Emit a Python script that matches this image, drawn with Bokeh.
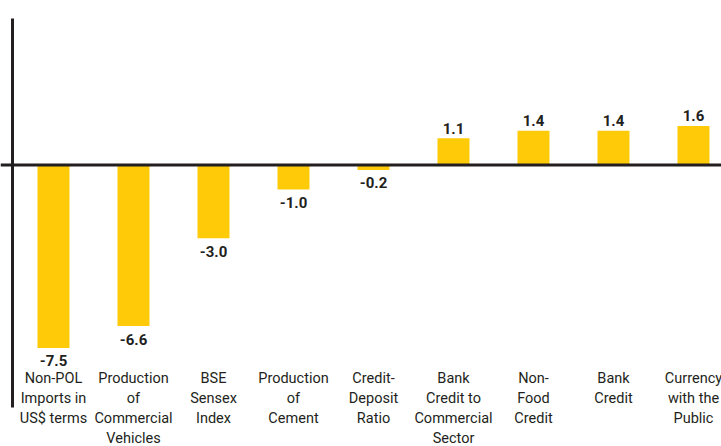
from bokeh.plotting import figure
from bokeh.models import ColumnDataSource, Span
from bokeh.core.properties import value
from bokeh.embed import file_html
from bokeh.resources import INLINE

categories = ["Non-POL\nImports in\nUS$ terms", "Production\nof\nCommercial\nVehicles",
              "BSE\nSensex\nIndex", "Production\nof\nCement", "Credit-\nDeposit\nRatio",
              "Bank\nCredit to\nCommercial\nSector", "Non-\nFood\nCredit", "Bank\nCredit",
              "Currency\nwith the\nPublic"]
values = [-7.5, -6.6, -3.0, -1.0, -0.2, 1.1, 1.4, 1.4, 1.6]
value_labels = ["-7.5", "-6.6", "-3.0", "-1.0", "-0.2", "1.1", "1.4", "1.4", "1.6"]

YELLOW = "#FFCB08"
DARK = "#231F20"
FONT = value("Roboto")

xs = list(range(len(categories)))
pos = [v >= 0 for v in values]
src = ColumnDataSource(dict(x=xs, top=values, cat=categories, lab=value_labels))
src_pos = ColumnDataSource(dict(x=[x for x, p_ in zip(xs, pos) if p_],
                                y=[v for v, p_ in zip(values, pos) if p_],
                                lab=[l for l, p_ in zip(value_labels, pos) if p_]))
src_neg = ColumnDataSource(dict(x=[x for x, p_ in zip(xs, pos) if not p_],
                                y=[v for v, p_ in zip(values, pos) if not p_],
                                lab=[l for l, p_ in zip(value_labels, pos) if not p_]))

p = figure(width=721, height=446, output_backend="svg", toolbar_location=None,
           x_range=(-0.6625, 8.35), y_range=(-11.537, 6.742),
           min_border=0, min_border_left=0, min_border_right=0,
           min_border_top=0, min_border_bottom=0)
p.axis.visible = False
p.grid.visible = False
p.outline_line_color = None
p.background_fill_color = "white"
p.border_fill_color = "white"

p.vbar(x="x", top="top", bottom=0, width=0.4, source=src,
       fill_color=YELLOW, line_color=None)

# zero line and left axis line
p.add_layout(Span(location=0, dimension="width", line_color=DARK, line_width=3))
AXIS_X = -0.5125
p.segment(x0=[AXIS_X], y0=[6.0], x1=[AXIS_X], y1=[-9.94],
          line_color=DARK, line_width=3)

# value labels
p.text(x="x", y="y", text="lab", source=src_pos, text_align="center",
       text_baseline="middle", y_offset=-10, text_font=FONT,
       text_font_size="15px", text_font_style="bold", text_color=DARK)
p.text(x="x", y="y", text="lab", source=src_neg, text_align="center",
       text_baseline="middle", y_offset=13, text_font=FONT,
       text_font_size="15px", text_font_style="bold", text_color=DARK)

# category labels
LABEL_Y = -8.42
p.text(x="x", y=LABEL_Y, text="cat", source=src, text_align="center",
       text_baseline="top", text_font=FONT, text_font_size="14.5px",
       text_line_height=1.16, text_color=DARK)

open("out.html", "w").write(file_html(p, INLINE))
